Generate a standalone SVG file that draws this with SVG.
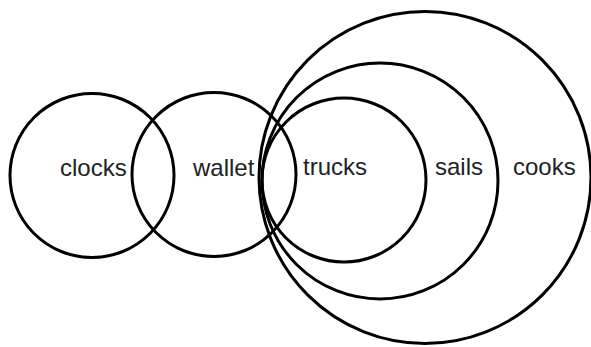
<svg xmlns="http://www.w3.org/2000/svg" width="591" height="347" viewBox="0 0 591 347">
<style>
.c{fill:none;stroke:#000;stroke-width:3}
.t{font-family:"Liberation Sans",Arial,sans-serif;font-size:24px;fill:#222}
</style>
<rect width="591" height="347" fill="#fff"/>
<g id="clocks"><circle class="c" cx="92" cy="175.5" r="82"/><text class="t" x="60" y="176">clocks</text></g>
<g id="wallet"><circle class="c" cx="214" cy="174.5" r="82"/><text class="t" x="193" y="176">wallet</text></g>
<g id="cooks"><circle class="c" cx="425" cy="177.5" r="166"/><text class="t" x="513" y="175">cooks</text></g>
<g id="sails"><circle class="c" cx="380" cy="181" r="118"/><text class="t" x="435" y="175">sails</text></g>
<g id="trucks"><circle class="c" cx="344" cy="180" r="82"/><text class="t" x="303" y="175">trucks</text></g>
<g id="connectors"></g>
</svg>
